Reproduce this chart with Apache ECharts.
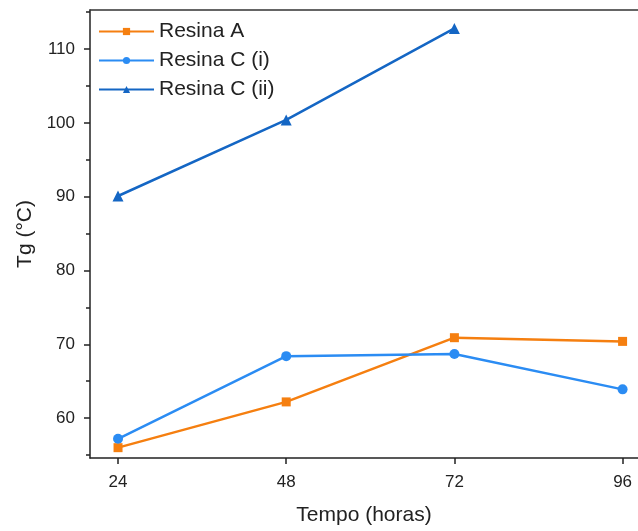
<!DOCTYPE html>
<html><head><meta charset="utf-8">
<script src="https://cdn.jsdelivr.net/npm/echarts@6/dist/echarts.min.js"></script>
<style>html,body{margin:0;padding:0;background:#fff}#c{width:638px;height:531px}</style>
</head><body><div id="c"></div>
<script>
const hours = [24, 48, 72, 96];
const resinaA = [56.0, 62.2, 70.9, 70.4];
const resinaCi = [57.2, 68.4, 68.7, 63.9];
const resinaCii = [90.1, 100.4, 112.8];
const xTicks = [24, 48, 72, 96];
const yLabels = [60, 70, 80, 90, 100, 110];
const yMinor = [55, 65, 75, 85, 95, 105, 115];

const pairs = (ys) => ys.map((v, i) => [hours[i], v]);
const FONT = 'Liberation Sans, Arial, sans-serif';
const chart = echarts.init(document.getElementById('c'), null, {renderer: 'canvas'});
const axisLine = {show: true, lineStyle: {color: '#222', width: 1.5}};
chart.setOption({
  animation: false,
  grid: {left: 90, top: 10, bottom: 69, right: 0, show: false},
  legend: {
    orient: 'vertical', left: 93, top: 16, itemWidth: 55, itemHeight: 9, itemGap: 8,
    textStyle: {fontFamily: FONT, fontSize: 21, color: '#222', lineHeight: 21},
    data: ['Resina A', 'Resina C (i)', 'Resina C (ii)']
  },
  xAxis: [{
    type: 'value', min: 20, max: 98.2,
    name: 'Tempo (horas)', nameLocation: 'middle', nameGap: 47,
    nameTextStyle: {fontFamily: FONT, fontSize: 21, color: '#222'},
    axisLine: axisLine,
    axisTick: {show: true, length: 6, customValues: xTicks, lineStyle: {color: '#222', width: 1.5}},
    axisLabel: {customValues: xTicks, fontFamily: FONT, fontSize: 17, color: '#222', margin: 16},
    splitLine: {show: false}
  }, {
    type: 'value', min: 20, max: 98.2, position: 'top',
    axisLine: {show: true, lineStyle: {color: '#333', width: 1.5}},
    axisTick: {show: false}, axisLabel: {show: false}, splitLine: {show: false}
  }],
  yAxis: [{
    type: 'value', min: 54.6, max: 115.3,
    name: 'Tg (°C)', nameLocation: 'middle', nameGap: 53,
    nameTextStyle: {fontFamily: FONT, fontSize: 21, color: '#222'},
    axisLine: axisLine,
    axisTick: {show: true, length: 6, customValues: yLabels, lineStyle: {color: '#222', width: 1.5}},
    axisLabel: {customValues: yLabels, fontFamily: FONT, fontSize: 17, color: '#222', margin: 15},
    splitLine: {show: false}
  }, {
    type: 'value', min: 54.6, max: 115.3, position: 'left',
    axisLine: {show: false},
    axisTick: {show: true, length: 4, customValues: yMinor, lineStyle: {color: '#222', width: 1.5}},
    axisLabel: {show: false},
    splitLine: {show: false}
  }],
  series: [
    {name: 'Resina A', type: 'line', data: pairs(resinaA), symbol: 'rect', symbolSize: 9,
     itemStyle: {color: '#F57F10'}, lineStyle: {width: 2.5, color: '#F57F10'}},
    {name: 'Resina C (i)', type: 'line', data: pairs(resinaCi), symbol: 'circle', symbolSize: 10,
     itemStyle: {color: '#2B8CF3'}, lineStyle: {width: 2.5, color: '#2B8CF3'}},
    {name: 'Resina C (ii)', type: 'line', data: pairs(resinaCii), symbol: 'triangle', symbolSize: 11,
     itemStyle: {color: '#1466C4'}, lineStyle: {width: 2.5, color: '#1466C4'}}
  ]
});
</script></body></html>
